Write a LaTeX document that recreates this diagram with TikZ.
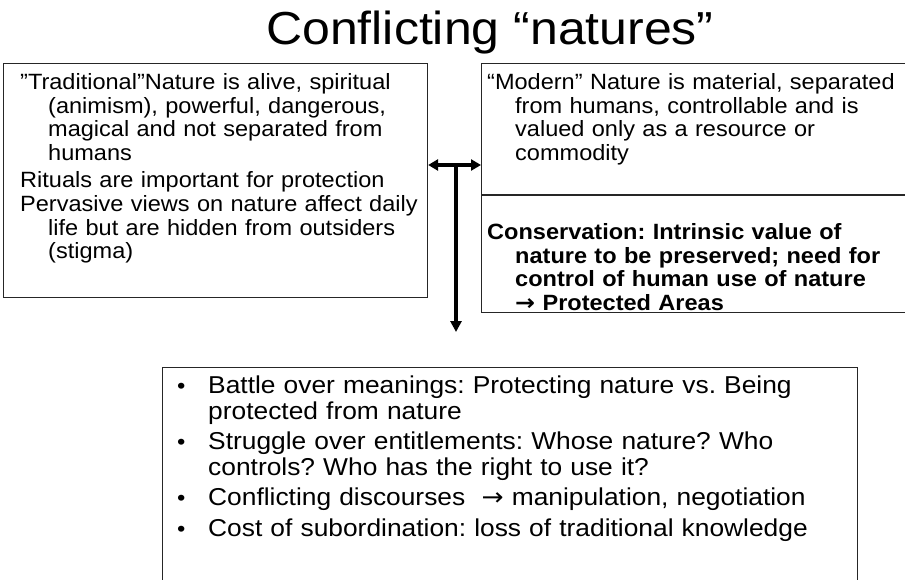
\documentclass[tikz,border=0pt]{standalone}
\usepackage{fontspec}
\setmainfont{Liberation Sans}[FakeStretch=1.08]
\newfontfamily\tpfam{Liberation Sans}[FakeStretch=1.065]
\newfontfamily\arrfont{DejaVu Sans}[FakeStretch=1.08]
\usetikzlibrary{arrows.meta}
\newcommand\tpfont{\tpfam\fontsize{22.1}{23.5}\selectfont\frenchspacing}
\newcommand\btfont{\fontsize{24.4}{26}\selectfont\frenchspacing}
\newcommand\ttlfont{\fontsize{46.3}{50}\selectfont}
\newcommand\rarr{{\arrfont →}}
\begin{document}
\begin{tikzpicture}[x=1pt,y=-1pt,
  box/.style={draw=black!85, line width=1.1pt, inner sep=0pt, anchor=north west},
  tl/.style={anchor=base west, inner sep=0pt, text width=600pt, align=left, font=\tpfont},
  bl/.style={anchor=base west, inner sep=0pt, text width=660pt, align=left, font=\btfont},
  bul/.style={anchor=base west, inner sep=0pt, font=\fontsize{22}{22}\selectfont},
  arr/.style={line width=3.4pt, draw=black}]
\fill[white] (0,0) rectangle (905,580);
\useasboundingbox (0,0) rectangle (905,580);
\clip (0,0) rectangle (905,580);

\node[anchor=base, font=\ttlfont, inner sep=0pt] (title) at (490,45) {Conflicting “natures”};

% boxes
\node[box, minimum width=424pt, minimum height=234pt] (lbox) at (3,63) {};
\node[box, minimum width=434pt, minimum height=249pt] (rbox) at (481,63) {};
\node[box, minimum width=695pt, minimum height=253pt] (bbox) at (162,367) {};
\coordinate (dv) at (0,195);
\draw[draw=black!85, line width=1.1pt] (rbox.west |- dv) -- (rbox.east |- dv);

% left box text
\node[tl] (l1a) at (20,90) {”Traditional”Nature is alive, spiritual};
\node[tl] (l1b) at (48,113.5) {(animism), powerful, dangerous,\\magical and not separated from\\humans};
\node[tl] (l2) at (20,188) {Rituals are important for protection};
\node[tl] (l3a) at (20,212) {Pervasive views on nature affect daily};
\node[tl] (l3b) at (48,235.5) {life but are hidden from outsiders\\(stigma)};

% right box text
\node[tl] (r1a) at (487,90) {“Modern” Nature is material, separated};
\node[tl] (r1b) at (515,113.5) {from humans, controllable and is\\valued only as a resource or\\commodity};
\node[tl] (r2a) at (487,240) {\bfseries Conservation: Intrinsic value of};
\node[tl] (r2b) at (515,263.5) {\bfseries nature to be preserved; need for\\control of human use of nature\\\rarr\ Protected Areas};

% bottom box text
\node[bul] (b1) at (177,393) {•};
\node[bl] (bt1) at (208,393) {Battle over meanings: Protecting nature vs. Being\\protected from nature};
\node[bul] (b2) at (177,449) {•};
\node[bl] (bt2) at (208,449) {Struggle over entitlements: Whose nature? Who\\controls? Who has the right to use it?};
\node[bul] (b3) at (177,505) {•};
\node[bl] (bt3) at (208,505) {Conflicting discourses~ \rarr\ manipulation, negotiation};
\node[bul] (b4) at (177,536) {•};
\node[bl] (bt4) at (208,536) {Cost of subordination: loss of traditional knowledge};

% arrows
\coordinate (hc) at (456,165);
\coordinate (vend) at (456,332);
\draw[arr, {Triangle[length=10pt,width=11pt]}-{Triangle[length=10pt,width=11pt]}] (lbox.east |- hc) -- (rbox.west |- hc);
\draw[arr, -{Triangle[length=11pt,width=11pt]}] (hc) -- (vend);
\end{tikzpicture}
\end{document}
